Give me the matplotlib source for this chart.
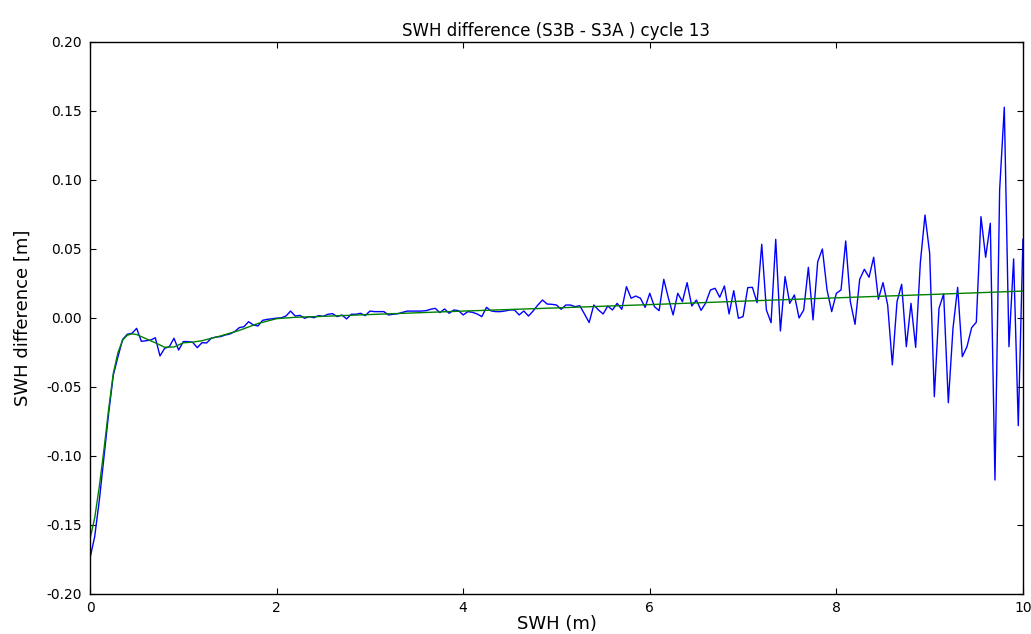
import numpy as np
import matplotlib
matplotlib.use("Agg")
import matplotlib.pyplot as plt

# SWH bins (m), 0.05 m spacing from 0 to 10
swh_bins = np.round(np.arange(0, 201) * 0.05, 2)

# Mean SWH difference per bin (m)
swh_diff = [
    -0.174, -0.1585, -0.132, -0.1005, -0.069, -0.0413, -0.028, -0.0155, -0.0118, -0.0111,
    -0.0075, -0.0169, -0.0165, -0.016, -0.0143, -0.0275, -0.022, -0.0208, -0.0147, -0.0232,
    -0.0171, -0.0171, -0.0176, -0.0215, -0.0179, -0.0181, -0.0147, -0.0138, -0.0135, -0.0123,
    -0.0116, -0.0099, -0.007, -0.0063, -0.0027, -0.005, -0.0058, -0.0017, -0.001, -0.0006,
    -0.0001, 0.0001, 0.0014, 0.005, 0.0014, 0.0019, -0.0002, 0.001, 0.0002, 0.0017,
    0.0012, 0.0027, 0.0031, 0.001, 0.0022, -0.0007, 0.0027, 0.0027, 0.0034, 0.0017,
    0.005, 0.0046, 0.0046, 0.0046, 0.0022, 0.0027, 0.0031, 0.0041, 0.005, 0.005,
    0.005, 0.005, 0.0053, 0.0063, 0.007, 0.0039, 0.0065, 0.0034, 0.0058, 0.0053,
    0.0022, 0.0046, 0.0041, 0.0029, 0.001, 0.0077, 0.0051, 0.0046, 0.0046, 0.0051,
    0.0058, 0.0058, 0.0022, 0.0051, 0.0014, 0.0051, 0.0094, 0.013, 0.0101, 0.0099,
    0.0094, 0.0063, 0.0094, 0.0094, 0.0082, 0.0089, 0.0029, -0.0033, 0.0094, 0.0058,
    0.0029, 0.0087, 0.0058, 0.0106, 0.0063, 0.0227, 0.0143, 0.0159, 0.0143, 0.0077,
    0.0179, 0.0082, 0.0053, 0.028, 0.0143, 0.0022, 0.0179, 0.0118, 0.0256, 0.0087,
    0.013, 0.0055, 0.011, 0.0203, 0.0215, 0.015, 0.0232, 0.0029, 0.0198, -0.0002,
    0.001, 0.022, 0.0222, 0.0111, 0.0534, 0.0058, -0.0034, 0.057, -0.0094, 0.03,
    0.0106, 0.0167, 0.0, 0.0058, 0.0367, -0.0014, 0.0408, 0.05, 0.0203, 0.0046,
    0.0179, 0.0203, 0.0558, 0.0118, -0.0046, 0.028, 0.0353, 0.0295, 0.044, 0.0135,
    0.0256, 0.0094, -0.034, 0.0118, 0.0244, -0.0208, 0.0106, -0.0213, 0.040, 0.0746,
    0.0469, -0.057, 0.007, 0.0174, -0.0614, -0.0075, 0.0222, -0.028, -0.0208, -0.007,
    -0.0031, 0.0734, 0.044, 0.0686, -0.1174, 0.0928, 0.1527, -0.0208, 0.0428, -0.078,
    0.057,
]

# Smooth fitted curve
fit_x = [0.0, 0.05, 0.1, 0.15, 0.2, 0.25, 0.3, 0.35, 0.4, 0.45, 0.5, 0.6, 0.7, 0.8,
         0.9, 1.0, 1.1, 1.2, 1.4, 1.6, 1.8, 2.0, 2.2, 2.5, 3.0, 4.0, 5.0, 6.0, 7.0,
         8.0, 9.0, 10.0]
fit_y = [-0.160, -0.145, -0.122, -0.095, -0.066, -0.040, -0.025, -0.016, -0.0125,
         -0.0115, -0.012, -0.015, -0.018, -0.0212, -0.021, -0.018, -0.0175, -0.0165,
         -0.013, -0.009, -0.004, -0.0005, 0.0005, 0.0012, 0.0025, 0.005, 0.0073,
         0.0097, 0.0122, 0.0146, 0.017, 0.0195]

x_ticks = [0, 2, 4, 6, 8, 10]
y_ticks = [-0.20, -0.15, -0.10, -0.05, 0.00, 0.05, 0.10, 0.15, 0.20]

fig = plt.figure(figsize=(10.31, 6.34), dpi=100, facecolor="white")
ax = fig.add_axes([0.0873, 0.0631, 0.9049, 0.8707])

ax.plot(swh_bins, swh_diff, color=(0, 0, 1), linewidth=1.0)
ax.plot(fit_x, fit_y, color=(0, 0.5, 0), linewidth=1.0)

ax.set_xlim(0, 10)
ax.set_ylim(-0.2, 0.2)
ax.set_xticks(x_ticks)
ax.set_yticks(y_ticks)
ax.set_xticklabels([str(t) for t in x_ticks])
ax.set_yticklabels([f"{t:.2f}" for t in y_ticks])
ax.tick_params(direction="in", length=4, width=0.8, top=True, right=True,
               labelsize=10, pad=6)
ax.tick_params(axis="x", pad=5)
for sp in ax.spines.values():
    sp.set_linewidth(1.0)

ax.set_title("SWH difference (S3B - S3A ) cycle 13", fontsize=12, pad=4)
ax.set_xlabel("SWH (m)", fontsize=13, labelpad=0)
ax.set_ylabel("SWH difference [m]", fontsize=13, labelpad=10)

fig.savefig("out.png", dpi=100, facecolor="white")
